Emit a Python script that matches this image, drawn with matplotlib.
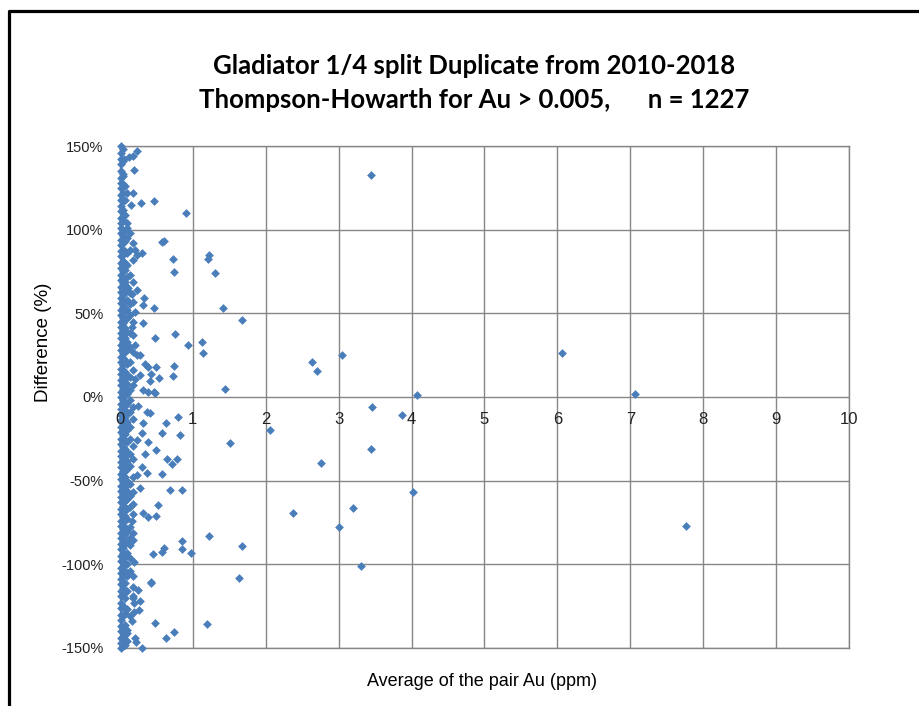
import matplotlib
matplotlib.use("Agg")
import matplotlib.pyplot as plt
from matplotlib.lines import Line2D

# Thompson-Howarth duplicates, Au (ppm) vs difference (%)
# dense band of low-grade pairs, one x per column
col_x = [0.01, 0.04, 0.07, 0.10, 0.14, 0.18]
col_y = [
    [150, 146, 142, 139, 135, 131, 128, 125, 121, 118, 114, 111, 107, 104, 101, 98, 94, 91,
     87, 84, 80, 77, 73, 70, 66, 63, 59, 56, 52, 49, 45, 42, 38, 35, 31, 28, 24, 21, 17, 14,
     10, 7, 3, 0, -4, -7, -11, -14, -18, -21, -25, -28, -32, -35, -39, -42, -46, -49, -53,
     -56, -60, -63, -67, -70, -74, -77, -81, -84, -88, -91, -95, -98, -102, -105, -109, -112,
     -116, -119, -123, -126, -130, -133, -137, -140, -144, -147, -150],
    [148, 141, 133, 127, 122, 117, 112, 106, 100, 96, 92, 88, 85, 81, 78, 75, 71, 68, 64, 61,
     58, 54, 50, 47, 44, 40, 37, 33, 30, 26, 23, 19, 16, 12, 9, 5, 2, -2, -6, -9, -13, -16,
     -19, -23, -27, -30, -33, -37, -40, -44, -47, -51, -55, -58, -62, -65, -69, -72, -75, -79,
     -83, -86, -90, -93, -97, -101, -107, -114, -118, -125, -131, -138, -145, -149],
    [126, 118, 109, 99, 93, 87, 80, 76, 69, 63, 57, 53, 46, 41, 35, 30, 27, 22, 15, 11, 6, 1,
     -3, -8, -12, -17, -22, -26, -31, -36, -41, -44, -48, -54, -59, -62, -66, -71, -78, -82,
     -88, -95, -99, -104, -111, -120, -129, -136, -142, -148],
    [122, 104, 95, 86, 79, 72, 66, 58, 52, 47, 39, 33, 28, 20, 13, 8, 2, -4, -10, -15, -20,
     -27, -33, -38, -43, -50, -56, -61, -67, -73, -80, -86, -93, -100, -107, -116, -127, -139,
     -146],
    [98, 88, 73, 62, 49, 38, 30, 21, 12, 4, -2, -9, -18, -25, -34, -41, -52, -59, -66, -78,
     -84, -96, -104, -131],
    [92, 69, 57, 45, 27, 16, 7, -6, -13, -29, -37, -48, -57, -64, -70, -81, -107, -120],
]

# scattered pairs
pts_x = [0.24, 0.18, 0.12, 0.05, 0.19, 0.04, 0.18, 0.15, 0.29, 0.46, 0.91, 0.09, 0.58, 0.61,
         0.73, 1.22, 1.21, 0.20, 0.30, 0.23, 0.18,
         0.74, 1.31, 0.23, 0.17, 0.33, 0.11, 0.31, 0.46, 1.42, 0.14, 0.21, 1.67, 0.31, 0.16,
         0.18, 0.48, 0.75, 0.93, 1.13, 1.14, 0.20, 0.23, 0.28, 0.34, 0.50, 0.74, 0.39, 0.43,
         0.53, 0.73, 0.27, 0.20, 0.41, 0.32, 0.39, 0.47, 1.44, 0.09,
         0.48, 0.25, 0.37, 0.41, 0.80, 0.63, 0.32, 0.57, 0.83, 0.30, 0.23, 0.39, 1.51, 0.50,
         0.34, 0.65, 0.78, 0.72, 0.30, 0.57, 0.37, 0.23, 0.27, 0.68, 0.85, 0.52, 0.32, 0.39,
         0.50,
         0.17, 0.85, 1.22, 0.61, 0.58, 0.85, 0.97, 0.45, 1.67, 0.18, 0.14, 0.19, 1.63, 0.42,
         0.43, 0.18, 0.25, 0.28, 0.18, 0.19, 0.26, 0.19, 0.16, 0.48, 1.19, 0.74, 0.63, 0.21,
         0.22, 0.30, 0.09,
         3.44, 2.64, 2.70, 3.04, 6.07, 4.08, 7.06, 3.46, 3.87, 2.06, 3.45, 2.76, 4.02, 2.37,
         3.20, 3.00, 7.76, 3.31]
pts_y = [147, 144, 143.6, 142, 135.7, 132, 121.7, 114.8, 115.7, 117.3, 110, 100.8, 92.8, 93.4,
         82.3, 84.9, 82.7, 88, 86, 85, 82,
         74.9, 73.9, 64, 61.4, 59, 65, 55, 53.4, 53, 55.4, 51, 46, 44, 42,
         37, 35.5, 37.5, 31, 32.7, 26, 31, 25, 25, 20, 18, 18.7, 18, 14,
         11.5, 12.7, 13, 11, 9.6, 4, 2.8, 2.8, 5, 3.6,
         2.2, -5.4, -8.8, -9.8, -11.8, -15.7, -15.7, -21.7, -22.7, -21.7, -25.7, -26.7, -27.3, -31.7,
         -34, -37.3, -37.3, -40, -41.7, -46, -45.6, -46.6, -54.6, -55.6, -55.6, -64.6, -69.5, -71.5,
         -71,
         -74, -86, -83, -90.4, -92.5, -91, -93, -93.8, -89, -85.5, -88.5, -98.4, -108.4, -110.4,
         -111.4, -113.4, -115.4, -122, -118.8, -123.3, -127.3, -128.7, -133.9, -135.3, -135.9, -140.3, -144.2, -144,
         -146.6, -149.8, -141,
         132.7, 20.9, 15.7, 25.1, 26.1, 1.2, 1.8, -5.8, -10.6, -19.7, -31, -39.7, -56.8, -69.1,
         -66.6, -77.5, -76.9, -101]

x_ticks = list(range(0, 11))
y_ticks = [150, 100, 50, 0, -50, -100, -150]

title1 = "Gladiator 1/4 split Duplicate from 2010-2018"
title2 = "Thompson-Howarth for Au > 0.005,      n = 1227"

blue = "#4A7EBB"
grid = "#868686"

fig = plt.figure(figsize=(9.2, 7.06), dpi=100)
ax = fig.add_axes([0.1304, 0.0822, 0.7924, 0.711])

for cx, ys in zip(col_x, col_y):
    ax.scatter([cx] * len(ys), ys, marker="D", s=20, color=blue, linewidths=0, zorder=3,
               clip_on=False)
ax.scatter(pts_x, pts_y, marker="D", s=20, color=blue, linewidths=0, zorder=3, clip_on=False)

ax.set_xlim(0, 10)
ax.set_ylim(-150, 150)
ax.set_xticks(x_ticks)
ax.set_yticks(y_ticks)
ax.set_yticklabels([f"{v}%" for v in y_ticks])
ax.grid(True, color=grid, lw=1.0, zorder=1)
for sp in ax.spines.values():
    sp.set_color(grid)
    sp.set_linewidth(1.0)
ax.tick_params(axis="x", length=0, labelbottom=False)
ax.tick_params(axis="y", length=0, pad=12, labelsize=10.5, labelcolor="#222222")
for lab in ax.get_yticklabels():
    lab.set_family("Liberation Sans")

# x labels sit under the 0% line, like Excel
for xt in x_ticks:
    ax.annotate(str(xt), (xt, 0), textcoords="offset points", xytext=(0, -11),
                ha="center", va="top", fontsize=12, family="Liberation Sans", color="#222222")

fig.text(0.515, 0.9065, title1, ha="center", va="center", fontsize=18.5,
         fontweight="bold", family="Lato")
fig.text(0.515, 0.858, title2, ha="center", va="center", fontsize=18.5,
         fontweight="bold", family="Lato")
fig.text(0.524, 0.0354, "Average of the pair Au (ppm)", ha="center", va="center",
         fontsize=13, family="Liberation Sans")
fig.text(0.047, 0.5156, "Difference (%)", ha="center", va="center", rotation=90,
         fontsize=13.5, family="Liberation Sans")

# outer black frame (left and top visible)
fig.add_artist(Line2D([0.0103, 0.0103, 1.0], [0.0, 0.9844, 0.9844],
                      transform=fig.transFigure, color="black", lw=2.3))

fig.savefig("out.png", dpi=100)
